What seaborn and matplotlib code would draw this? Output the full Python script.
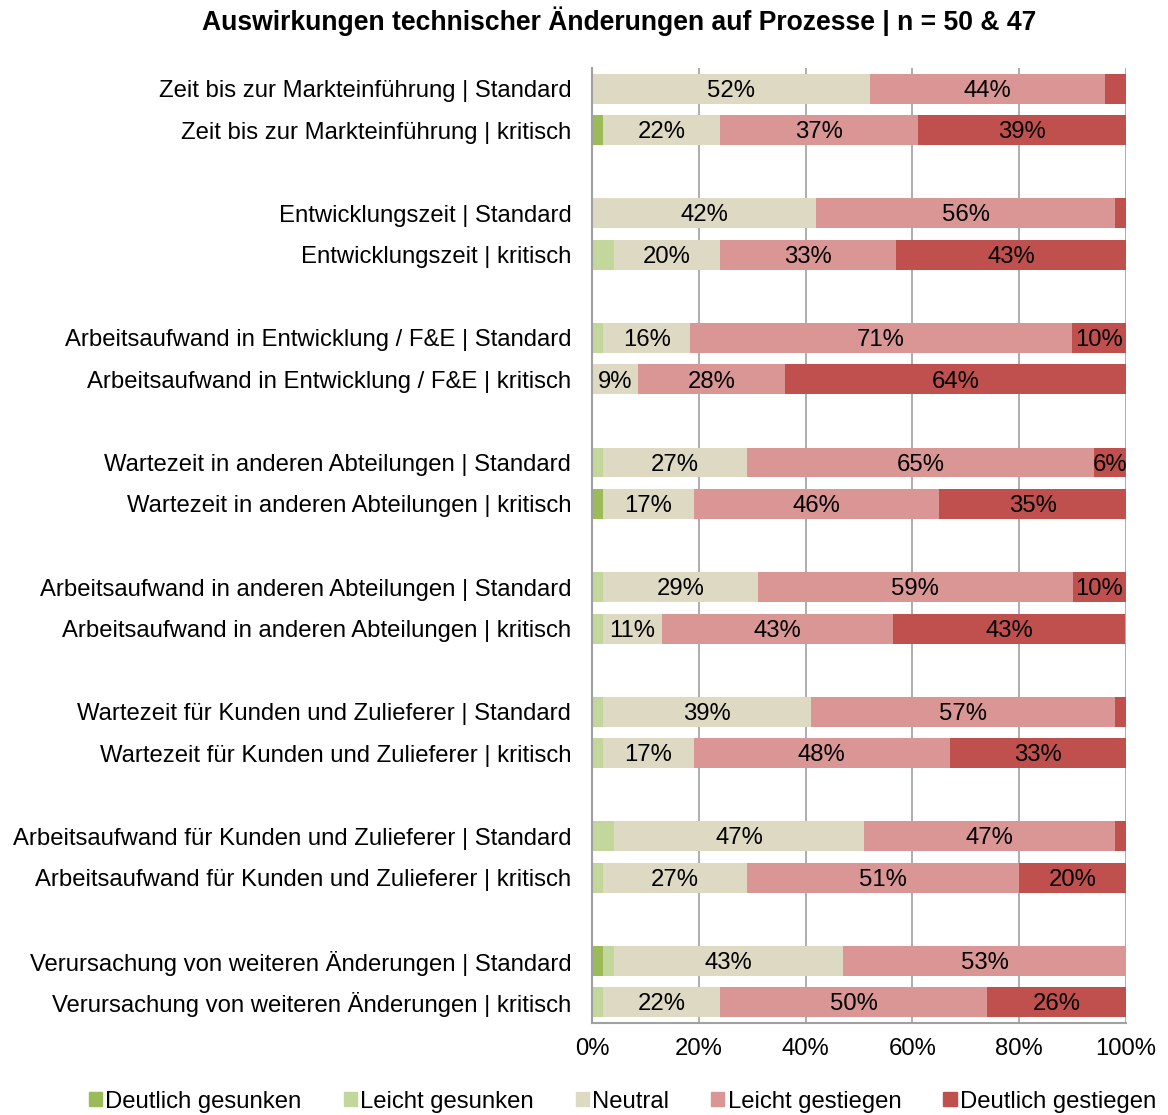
import pandas as pd
import numpy as np
import matplotlib.pyplot as plt
import seaborn as sns
from matplotlib.patches import Patch

# categories (top to bottom), None = empty spacer row
categories = [
    "Zeit bis zur Markteinführung | Standard",
    "Zeit bis zur Markteinführung | kritisch",
    None,
    "Entwicklungszeit | Standard",
    "Entwicklungszeit | kritisch",
    None,
    "Arbeitsaufwand in Entwicklung / F&E | Standard",
    "Arbeitsaufwand in Entwicklung / F&E | kritisch",
    None,
    "Wartezeit in anderen Abteilungen | Standard",
    "Wartezeit in anderen Abteilungen | kritisch",
    None,
    "Arbeitsaufwand in anderen Abteilungen | Standard",
    "Arbeitsaufwand in anderen Abteilungen | kritisch",
    None,
    "Wartezeit für Kunden und Zulieferer | Standard",
    "Wartezeit für Kunden und Zulieferer | kritisch",
    None,
    "Arbeitsaufwand für Kunden und Zulieferer | Standard",
    "Arbeitsaufwand für Kunden und Zulieferer | kritisch",
    None,
    "Verursachung von weiteren Änderungen | Standard",
    "Verursachung von weiteren Änderungen | kritisch",
]

series = ["Deutlich gesunken", "Leicht gesunken", "Neutral", "Leicht gestiegen", "Deutlich gestiegen"]
colors = ["#9BBB59", "#C3D69B", "#DDD9C3", "#D99694", "#C0504D"]

# values in % per bar (only non-empty rows)
deutlich_gesunken = [0, 2, 0, 0, 0, 0, 0, 2, 0, 0, 0, 0, 0, 0, 2, 0]
leicht_gesunken = [0, 0, 0, 4, 2, 0, 2, 0, 2, 2, 2, 2, 4, 2, 2, 2]
neutral = [52, 22, 42, 20, 16.4, 8.6, 27, 17, 29, 11, 39, 17, 47, 27, 43, 22]
leicht_gestiegen = [44, 37, 56, 33, 71.4, 27.6, 65, 46, 59, 43.4, 57, 48, 47, 51, 53, 50]
deutlich_gestiegen = [4, 39, 2, 43, 10.2, 63.8, 6, 35, 10, 43.4, 2, 33, 2, 20, 0, 26]

sns.set_style("white")
plt.rcParams["font.family"] = ["Liberation Sans", "DejaVu Sans"]
plt.rcParams["text.color"] = "black"
plt.rcParams["xtick.color"] = "black"
plt.rcParams["ytick.color"] = "black"

FS = 17.2

slots = [c if c is not None else "gap%d" % i for i, c in enumerate(categories)]
bar_names = [c for c in categories if c is not None]

df = pd.DataFrame({
    "Kategorie": bar_names,
    series[0]: deutlich_gesunken,
    series[1]: leicht_gesunken,
    series[2]: neutral,
    series[3]: leicht_gestiegen,
    series[4]: deutlich_gestiegen,
})
cum = df[series].cumsum(axis=1)
cum["Kategorie"] = df["Kategorie"]

fig = plt.figure(figsize=(11.68, 11.15), dpi=100)
ax = fig.add_axes([0.507, 0.0825, 0.457, 0.8565])

# stacked bars: draw cumulative widths from the last series to the first
for s, c in zip(reversed(series), reversed(colors)):
    sns.barplot(data=cum, x=s, y="Kategorie", order=slots, color=c, orient="h",
                width=0.72, saturation=1, linewidth=0, ax=ax, zorder=2)

# value labels
for i, name in enumerate(bar_names):
    ypos = slots.index(name)
    left = 0
    for s in series:
        v = df.loc[i, s]
        if v >= 5:
            ax.text(left + v / 2, ypos + 0.05, "%.0f%%" % v, ha="center", va="center",
                    fontsize=FS, color="black", zorder=3)
        left += v

ax.set_xlim(0, 100)
ax.set_ylim(len(slots) - 0.5, -0.5)
ax.set_xticks([0, 20, 40, 60, 80, 100])
ax.set_xticklabels(["0%", "20%", "40%", "60%", "80%", "100%"], fontsize=FS)
ax.set_yticks(range(len(slots)))
ax.set_yticklabels([c if c is not None else "" for c in categories], fontsize=FS)
ax.set_yticks(np.arange(-0.5, len(slots), 1), minor=True)
ax.tick_params(axis="y", which="major", length=0, pad=15)
ax.tick_params(axis="y", which="minor", length=6, color="#A0A0A0", width=1.2)
ax.tick_params(axis="x", which="major", length=6, color="#A0A0A0", width=1.2, pad=5)
ax.set_xlabel("")
ax.set_ylabel("")

ax.xaxis.grid(True, color="#A0A0A0", linewidth=1.2, zorder=0)
ax.set_axisbelow(True)
for side in ["top", "right"]:
    ax.spines[side].set_visible(False)
for side in ["left", "bottom"]:
    ax.spines[side].set_color("#A0A0A0")
    ax.spines[side].set_linewidth(1.5)

handles = [Patch(color=c, label=s) for s, c in zip(series, colors)]
fig.legend(handles=handles, loc="center", bbox_to_anchor=(0.533, 0.012), ncol=5,
           frameon=False, fontsize=FS, handlelength=0.55, handleheight=0.55,
           handletextpad=0.15, columnspacing=1.75)

fig.text(0.53, 0.981, "Auswirkungen technischer Änderungen auf Prozesse | n = 50 & 47",
         ha="center", va="center", fontsize=19.1, fontweight="bold")

fig.savefig("out.png", dpi=100)
